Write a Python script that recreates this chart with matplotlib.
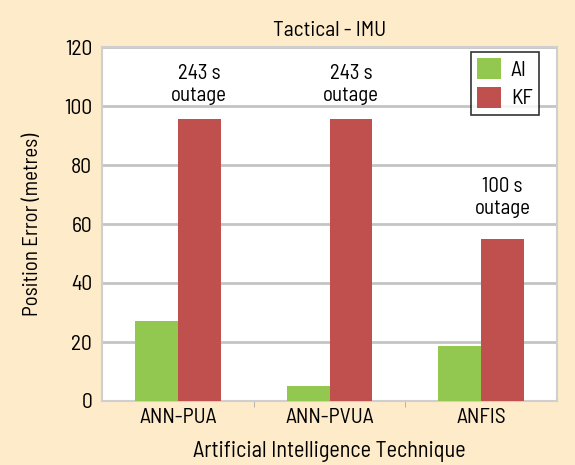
import matplotlib
matplotlib.use("Agg")
import matplotlib.pyplot as plt
import numpy as np

categories = ["ANN-PUA", "ANN-PVUA", "ANFIS"]
ai_values = [27, 5, 18.5]
kf_values = [95.5, 95.5, 55]
annotations = ["243 s\noutage", "243 s\noutage", "100 s\noutage"]
annot_y = [100.5, 100.5, 62]
yticks = [0, 20, 40, 60, 80, 100, 120]

plt.rcParams['font.family'] = ['Barlow Semi Condensed', 'DejaVu Sans']

fig = plt.figure(figsize=(5.75, 4.65), dpi=100)
fig.patch.set_facecolor('#fdebc9')
ax = fig.add_axes([102/575, 1 - 401/465, 455/575, 354/465])
ax.set_facecolor('white')

x = np.arange(len(categories))
w = 0.283
ax.bar(x - w/2, ai_values, w, color='#92c850', label='AI', zorder=3)
ax.bar(x + w/2, kf_values, w, color='#c0504d', label='KF', zorder=3)

for xi, t, yy in zip(x, annotations, annot_y):
    ax.text(xi + w/2, yy, t, ha='center', va='bottom', fontsize=15, linespacing=1.2)

ax.set_xlim(-0.5, 2.5)
ax.set_ylim(0, 120)
ax.set_yticks(yticks)
ax.set_xticks(x)
ax.set_xticklabels(categories)
ax.set_xticks([0.5, 1.5], minor=True)
ax.tick_params(axis='x', which='major', length=0, labelsize=15.5, pad=5)
ax.tick_params(axis='x', which='minor', length=4, color='#aaaaaa')
ax.tick_params(axis='y', length=0, labelsize=15.5, pad=7)
ax.yaxis.grid(True, color='#c4c4c4', linewidth=2, zorder=0)
for s in ax.spines.values():
    s.set_color('#cfcfcf')
    s.set_linewidth(1.5)

ax.set_title("Tactical - IMU", fontsize=15.5, pad=8)
ax.set_ylabel("Position Error (metres)", fontsize=15, labelpad=16)
ax.set_xlabel("Artificial Intelligence Technique", fontsize=16, labelpad=10)

leg = ax.legend(loc='upper right', fontsize=15.5, frameon=True, fancybox=False,
                edgecolor='black', handlelength=1.12, handleheight=1.12,
                handletextpad=0.45, borderpad=0.3,
                bbox_to_anchor=(1 - 18/455, 1 - 5/354), borderaxespad=0,
                labelspacing=0.3)
leg.get_frame().set_linewidth(1.2)

fig.savefig("out.png", dpi=100, facecolor=fig.get_facecolor())
